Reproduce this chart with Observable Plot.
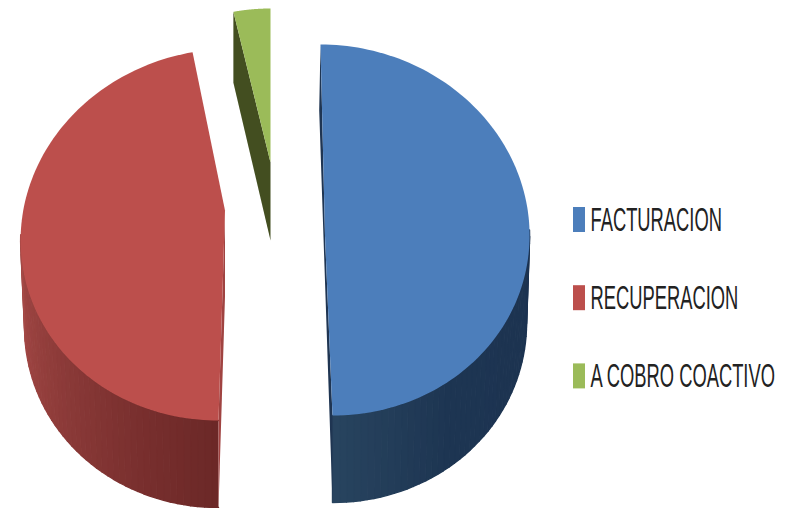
<!DOCTYPE html>
<html>
<head>
<meta charset="utf-8">
<script src="https://cdn.jsdelivr.net/npm/d3@7"></script>
<script src="https://cdn.jsdelivr.net/npm/@observablehq/plot@0.6"></script>
<style>
  html, body { margin: 0; padding: 0; background: #fff; }
  svg { display: block; }
</style>
</head>
<body>
<div id="chart"></div>
<script>
const categories = ["FACTURACION", "RECUPERACION", "A COBRO COACTIVO"];
const values = [50, 47, 3];
const topColors = ["#4c7ebb", "#bc4f4c", "#9bbb59"];

// Per-slice placement of the exploded, tilted 3D pie.
const geometry = [
  {cx: 326, cy: 229.5, rx: 203, ry: 185.5, sh: 6, apex: [324.5, 235], depth: 87, lowRx: 200},
  {cx: 224.2, cy: 234.2, rx: 204, ry: 185.8, sh: -6.2, apex: [224.5, 210], depth: 87, lowRx: 200},
  {cx: 270, cy: 194, rx: 198, ry: 186, sh: 0, apex: [270, 162], depth: 72, lowRx: 198}
];

const arcs = d3.pie().sort(null).value(d => d)(values);

function rim(i, a, low = false) {
  const g = geometry[i];
  const rx = low ? g.lowRx : g.rx;
  return {
    x: g.cx + rx * Math.sin(a) - g.sh * Math.cos(a),
    y: g.cy - g.ry * Math.cos(a) + (low ? g.depth : 0)
  };
}

// Top faces
const tops = arcs.flatMap((arc, i) => {
  const pts = [{x: geometry[i].apex[0], y: geometry[i].apex[1]}];
  const n = 120;
  for (let k = 0; k <= n; ++k) pts.push(rim(i, arc.startAngle + (arc.endAngle - arc.startAngle) * k / n));
  return pts.map(p => ({...p, key: categories[i], color: topColors[i]}));
});

// Outer walls, drawn as narrow shaded strips
const blueShade = d3.scaleLinear().domain([60, 145, 180]).range(["#1c3250", "#1d3552", "#28445f"]);
const redShade = d3.scaleLinear().domain([180, 200, 270, 300]).range(["#6b2827", "#772e2d", "#a64a47", "#a84b48"]);
const walls = [];
function wall(i, from, to, shade) {
  const step = 2;
  for (let d = from; d < to; d += step) {
    const a = d * Math.PI / 180, b = (d + step) * Math.PI / 180;
    const color = shade(d + step / 2);
    [rim(i, a), rim(i, b), rim(i, b, true), rim(i, a, true)].forEach(p =>
      walls.push({...p, key: `${i}-${d}`, color}));
  }
}
wall(0, 90, 180, blueShade);
wall(1, 180, 270, redShade);

// Cut faces that stay visible beside the slices
const offset = (p, dx, dy) => ({x: p.x + dx, y: p.y + dy});
const apexOf = i => ({x: geometry[i].apex[0], y: geometry[i].apex[1]});
const rad = Math.PI;
const faces = [
  {key: "f0", color: "#1f3552", pts: [rim(0, 0), offset(rim(0, 0), -1.3, 66), rim(0, rad, true), rim(0, rad), apexOf(0)]},
  {key: "f1", color: "#a04341", pts: [apexOf(1), offset(apexOf(1), 0, 86), rim(1, rad, true), rim(1, rad)]},
  {key: "f2", color: "#434e20", pts: [rim(2, arcs[2].startAngle), offset(rim(2, arcs[2].startAngle), 0, 71), offset(apexOf(2), 0, 78), apexOf(2)]}
].flatMap(f => f.pts.map(p => ({...p, key: f.key, color: f.color})));

// Legend
const legendRows = categories.map((name, i) => ({name, color: topColors[i], row: i}));
const legendY = d => 219.5 + d.row * 78.2;

const plot = Plot.plot({
  width: 792,
  height: 508,
  margin: 0,
  x: {domain: [0, 792], axis: null},
  y: {domain: [508, 0], axis: null},
  color: {type: "identity"},
  marks: [
    Plot.line(walls, {x: "x", y: "y", z: "key", fill: "color", stroke: "color", strokeWidth: 1.4}),
    Plot.line(faces, {x: "x", y: "y", z: "key", fill: "color", stroke: "none"}),
    Plot.line(tops, {x: "x", y: "y", z: "key", fill: "color", stroke: "none"}),
    Plot.rect(legendRows, {
      x1: () => 573, x2: () => 585,
      y1: d => legendY(d) - 12.5, y2: d => legendY(d) + 12.5,
      fill: "color"
    }),
    Plot.text(legendRows, {
      x: () => 590, y: d => legendY(d),
      text: "name", textAnchor: "start", fill: "#222",
      fontSize: 33, fontFamily: "Liberation Sans",
      render(index, scales, channels, dims, ctx, next) {
        const g = next(index, scales, channels, dims, ctx);
        g.querySelectorAll("text").forEach(t => {
          t.setAttribute("transform", `${t.getAttribute("transform") || ""} scale(0.556,1)`);
        });
        return g;
      }
    })
  ]
});
document.getElementById("chart").append(plot);
</script>
</body>
</html>
